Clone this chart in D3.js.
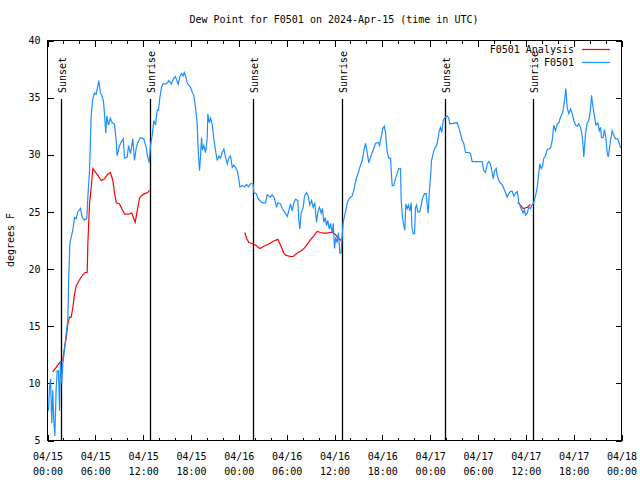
<!DOCTYPE html>
<html><head><meta charset="utf-8">
<script src="https://cdn.jsdelivr.net/npm/d3@7"></script>
<style>
body{margin:0;background:#fff;}
svg{display:block;}
text{font-family:"DejaVu Sans Mono","Liberation Mono",monospace;font-size:10px;fill:#000;}
</style></head><body>
<div id="chart"></div>
<script>
// ---- data (hours since 2024-04-15 00:00 UTC) ----
const chartTitle = "Dew Point for F0501 on 2024-Apr-15 (time in UTC)";
const yLabel = "degrees F";
const seriesNames = ["F0501 Analysis", "F0501"];
const xTickHours = [0,6,12,18,24,30,36,42,48,54,60,66,72];
const xTickDates = ["04/15","04/15","04/15","04/15","04/16","04/16","04/16","04/16","04/17","04/17","04/17","04/17","04/18"];
const xTickTimes = ["00:00","06:00","12:00","18:00","00:00","06:00","12:00","18:00","00:00","06:00","12:00","18:00","00:00"];
const yTicks = [5,10,15,20,25,30,35,40];
const sunsetHours = [1.72, 25.75, 49.84];
const sunriseHours = [12.83, 36.97, 60.88];

const stationHours = [0.13,0.25,0.38,0.54,0.66,0.79,0.92,1.09,1.22,1.38,1.51,1.63,1.79,1.92,2.13,2.35,2.55,2.67,2.80,2.97,3.17,3.39,3.60,3.80,4.14,4.35,4.64,4.93,5.06,5.27,5.48,5.68,5.90,6.11,6.44,6.61,6.81,7.02,7.15,7.31,7.44,7.65,7.87,8.12,8.40,8.62,8.74,9.03,9.32,9.50,9.66,10.00,10.16,10.41,10.70,10.91,11.13,11.33,11.67,12.08,12.38,12.58,12.76,12.92,13.13,13.33,13.55,13.76,13.92,14.09,14.30,14.51,14.93,15.22,15.52,15.84,16.06,16.18,16.40,16.60,16.81,17.02,17.15,17.35,17.52,17.72,17.94,18.15,18.35,18.56,18.78,18.90,19.07,19.19,19.32,19.44,19.61,19.82,20.03,20.11,20.28,20.45,20.66,20.86,21.07,21.29,21.49,21.70,21.91,22.12,22.33,22.54,22.74,22.96,23.17,23.37,23.58,23.80,24.00,24.12,24.42,24.71,24.96,25.21,25.38,25.59,25.80,25.88,26.21,26.38,26.63,26.93,27.35,27.56,27.76,27.97,28.18,28.47,28.73,28.89,29.23,29.44,29.73,30.07,30.27,30.48,30.70,30.90,31.11,31.40,31.53,31.65,31.82,32.08,32.24,32.49,32.70,32.90,33.12,33.33,33.53,33.74,33.91,34.12,34.33,34.50,34.66,34.84,35.00,35.16,35.34,35.50,35.71,35.84,36.00,36.16,36.34,36.50,36.67,36.84,36.92,37.09,37.38,37.60,37.88,38.22,38.42,38.72,38.98,39.26,39.48,39.73,39.89,40.10,40.30,40.52,40.73,40.93,41.14,41.48,41.65,41.90,42.06,42.24,42.40,42.61,42.81,43.03,43.15,43.24,43.44,43.65,43.86,44.07,44.28,44.37,44.53,44.69,44.82,44.95,45.12,45.28,45.44,45.62,45.70,45.87,46.04,46.16,46.29,46.45,46.70,46.88,47.04,47.29,47.50,47.63,47.76,47.88,48.04,48.17,48.38,48.55,48.80,48.96,49.14,49.30,49.46,49.64,49.80,49.96,50.14,50.34,50.46,51.39,51.59,51.81,52.02,52.22,52.43,52.85,53.06,53.27,54.53,54.73,54.94,55.16,55.36,55.57,55.78,55.91,56.07,56.28,56.41,56.61,56.82,57.03,57.24,57.45,57.66,57.86,58.08,58.29,58.49,58.70,58.91,59.04,59.11,59.20,59.33,59.67,59.83,59.96,60.17,60.37,60.58,60.79,60.99,61.21,61.42,61.55,61.75,61.93,62.09,62.26,62.47,62.68,62.88,63.10,63.31,63.51,63.72,63.94,64.14,64.35,64.56,64.69,64.85,65.02,65.19,65.39,65.61,65.82,66.02,66.23,66.45,66.65,66.86,67.07,67.20,67.27,67.49,67.70,67.90,68.12,68.24,68.40,68.61,68.78,69.03,69.21,69.37,69.49,69.70,69.86,70.03,70.20,70.33,70.50,70.62,70.83,71.04,71.25,71.54,71.67,71.88];
const stationDew = [7.6,9.6,10.4,6.5,9.4,6.75,5.4,9.6,11.1,11.1,7.6,12.0,10.0,11.7,12.9,14.4,15.5,19.4,22.2,22.8,23.4,24.5,24.4,25.0,25.3,24.5,24.3,24.4,26.3,28.6,33.4,34.9,35.4,35.3,36.5,35.5,35.2,34.7,33.6,31.9,33.4,32.6,33.2,32.8,32.7,31.2,29.9,30.8,31.2,31.4,29.7,29.8,30.8,30.1,31.4,29.5,30.6,31.1,31.5,31.4,30.6,29.8,29.3,30.8,31.7,33.0,32.6,33.9,33.9,35.0,35.9,36.2,36.2,36.5,36.2,36.7,36.85,36.6,36.15,36.85,37.1,36.9,37.2,36.85,36.3,36.1,35.9,35.5,35.2,34.2,32.7,30.4,28.6,29.8,31.5,30.4,30.8,30.2,31.4,33.6,32.8,33.2,32.7,31.4,30.4,29.5,29.9,29.7,30.2,30.5,29.8,29.2,29.7,29.9,28.9,29.1,28.9,28.6,27.9,27.2,27.3,27.2,27.4,27.2,27.4,27.5,27.4,26.7,26.6,26.2,26.0,25.8,25.8,26.5,26.4,26.3,26.5,26.2,25.4,25.8,25.7,25.3,25.0,24.6,25.1,25.7,25.1,25.8,26.1,26.0,24.25,23.5,24.9,25.4,26.4,26.7,26.4,25.6,26.0,25.4,25.8,24.1,25.0,25.4,24.9,25.3,24.1,24.5,23.8,24.25,23.5,24.0,23.1,24.0,21.8,22.8,22.3,23.2,21.4,21.4,22.5,24.1,25.0,25.8,26.2,26.4,26.9,27.9,28.4,29.1,29.5,30.55,31.0,30.2,29.3,29.8,30.2,30.55,31.0,31.1,30.8,31.7,32.3,32.5,31.95,30.2,29.7,29.7,28.2,27.3,27.3,27.9,28.4,28.8,28.8,26.0,24.5,23.8,23.4,25.7,25.3,25.6,25.1,25.8,23.7,23.1,23.1,25.4,25.6,25.0,25.0,25.6,26.2,26.6,26.6,25.6,24.9,26.6,28.0,29.5,30.1,30.55,30.8,31.25,32.1,32.4,31.95,33.0,33.2,33.3,33.4,33.2,32.7,32.8,32.4,31.85,31.25,31.0,30.2,30.2,30.1,29.4,29.4,28.6,28.45,29.2,29.4,29.2,28.4,27.9,28.6,28.8,28.2,27.75,27.5,27.4,27.05,26.7,26.3,26.6,26.8,26.8,26.4,26.6,26.8,26.3,25.8,25.7,25.4,24.9,25.2,24.7,24.9,25.4,25.3,25.6,25.8,26.4,27.1,27.9,29.2,28.8,29.0,29.7,29.9,30.45,30.5,30.6,31.25,32.6,32.1,32.7,32.8,33.3,33.6,33.95,34.75,35.8,34.1,33.6,34.0,33.6,33.0,32.6,32.5,32.7,32.4,31.7,30.55,29.8,31.9,32.8,33.0,34.0,35.2,34.3,33.4,32.6,32.8,32.1,32.4,31.5,31.5,32.2,31.5,30.2,29.8,30.6,31.25,32.1,31.7,31.4,31.4,31.1,30.6];

// analysis: null marks a gap between runs
const analysisHours = [0.66,1.09,1.51,1.92,2.13,2.35,2.55,2.76,2.97,3.17,3.39,3.60,3.80,4.14,4.43,4.73,4.98,5.06,5.27,5.48,5.68,5.90,6.31,6.74,7.15,7.56,7.90,8.19,8.40,8.62,9.03,9.45,9.66,10.16,10.57,10.83,11.00,11.25,11.54,11.75,12.17,12.58,12.79,
  18.0,
  24.75,24.96,25.25,25.75,26.09,26.63,27.13,27.76,28.39,28.89,29.23,29.64,29.94,30.48,30.82,31.32,31.82,32.24,32.65,33.08,33.40,33.83,34.25,34.66,35.09,35.41,35.84,36.13,36.54,36.84,
  48.0,
  58.99,59.33,59.67,60.17,60.58];
const analysisDew = [11.0,11.4,11.8,12.0,13.1,14.0,15.2,15.8,15.8,16.6,17.8,18.5,18.8,19.2,19.5,19.7,19.7,22.2,25.7,27.1,28.8,28.6,28.2,27.75,27.9,28.3,28.45,27.75,26.7,25.8,25.7,25.1,24.8,24.8,24.9,24.4,24.1,25.1,26.2,26.4,26.6,26.7,26.9,
  null,
  23.2,22.7,22.35,22.2,22.1,21.8,22.0,22.2,22.45,22.6,22.1,21.4,21.2,21.1,21.1,21.4,21.6,21.85,22.25,22.65,22.9,23.3,23.2,23.15,23.15,23.2,23.2,23.0,22.7,22.5,
  null,
  25.85,25.6,25.3,25.4,25.65];

const colors = ["#ff0000", "#1e8fff"];

// ---- chart ----
const W = 640, H = 480;
const m = {l:47, r:19, t:40, b:40};
const svg = d3.select("#chart").append("svg").attr("width", W).attr("height", H);

const x = d3.scaleLinear().domain([0,72]).range([m.l + 0.5, W - m.r + 0.5]);
const y = d3.scaleLinear().domain([5,40]).range([H - m.b + 0.5, m.t + 0.5]);

// title
svg.append("text").attr("x", (m.l + W - m.r)/2).attr("y", 23)
  .attr("text-anchor","middle").text(chartTitle);

// y label
svg.append("text").attr("transform", `translate(14,${(m.t + H - m.b)/2}) rotate(-90)`)
  .attr("text-anchor","middle").text(yLabel);

const axG = svg.append("g").attr("shape-rendering","crispEdges");

function styleAxis(g){
  g.select(".domain").remove();
  g.selectAll("line").attr("stroke","#000");
}

// bottom major ticks with labels
const xb = axG.append("g").attr("transform",`translate(0,${H - m.b + 0.5})`)
  .call(d3.axisBottom(x).tickValues(xTickHours).tickSize(-6).tickPadding(12).tickFormat(() => ""));
styleAxis(xb);
xb.selectAll(".tick").each(function(d,i){
  const t = d3.select(this).select("text").attr("font-family",null).attr("font-size",null)
    .attr("y",null).attr("dy",null);
  t.append("tspan").attr("x",0).attr("y",19).text(xTickDates[i]);
  t.append("tspan").attr("x",0).attr("y",34).text(xTickTimes[i]);
});
// top major ticks
const xt = axG.append("g").attr("transform",`translate(0,${m.t + 0.5})`)
  .call(d3.axisTop(x).tickValues(xTickHours).tickSize(-6).tickFormat(() => ""));
styleAxis(xt);
// minor x ticks every 2 hours
const minorHours = d3.range(0,73,2).filter(h => h % 6 !== 0);
const xbm = axG.append("g").attr("transform",`translate(0,${H - m.b + 0.5})`)
  .call(d3.axisBottom(x).tickValues(minorHours).tickSize(-3).tickFormat(() => ""));
styleAxis(xbm);
const xtm = axG.append("g").attr("transform",`translate(0,${m.t + 0.5})`)
  .call(d3.axisTop(x).tickValues(minorHours).tickSize(-3).tickFormat(() => ""));
styleAxis(xtm);

// y axes
const yl = axG.append("g").attr("transform",`translate(${m.l + 0.5},0)`)
  .call(d3.axisLeft(y).tickValues(yTicks).tickSize(-6).tickPadding(7));
styleAxis(yl);
yl.selectAll("text").attr("font-family",null).attr("font-size",null);
const yr = axG.append("g").attr("transform",`translate(${W - m.r + 0.5},0)`)
  .call(d3.axisRight(y).tickValues(yTicks).tickSize(-6).tickFormat(() => ""));
styleAxis(yr);

// frame
axG.append("rect").attr("x", m.l + 0.5).attr("y", m.t + 0.5)
  .attr("width", W - m.l - m.r).attr("height", H - m.t - m.b)
  .attr("fill","none").attr("stroke","#000");

// sunrise / sunset lines
const events = sunsetHours.map(h => ({h, label:"Sunset"}))
  .concat(sunriseHours.map(h => ({h, label:"Sunrise"})));
const evG = svg.append("g");
events.forEach(e => {
  const px = Math.round(x(e.h)) + 0.5;
  evG.append("line").attr("x1",px).attr("x2",px).attr("y1",99).attr("y2",H - m.b)
    .attr("stroke","#000").attr("stroke-width",1.3);
  evG.append("text").attr("transform",`translate(${px + 4},93) rotate(-90)`)
    .attr("text-anchor","start").text(e.label);
});

// data lines
const plotClip = svg.append("clipPath").attr("id","clip").append("rect")
  .attr("x", m.l).attr("y", m.t).attr("width", W - m.l - m.r + 1).attr("height", H - m.t - m.b + 1);

const stationData = stationHours.map((h,i) => ({h, v: stationDew[i]}));
const analysisData = analysisHours.map((h,i) => ({h, v: analysisDew[i]}));

const line = d3.line().defined(d => d.v !== null).x(d => x(d.h)).y(d => y(d.v));

const dataG = svg.append("g").attr("clip-path","url(#clip)");
dataG.append("path").datum(analysisData).attr("d", line)
  .attr("fill","none").attr("stroke", colors[0]).attr("stroke-width",1.2);
dataG.append("path").datum(stationData).attr("d", line)
  .attr("fill","none").attr("stroke", colors[1]).attr("stroke-width",1.2);

// legend
const legG = svg.append("g");
seriesNames.forEach((name,i) => {
  const ly = 49.5 + i*13;
  legG.append("text").attr("x",574).attr("y",ly).attr("dy","0.35em")
    .attr("text-anchor","end").text(name);
  legG.append("line").attr("x1",582).attr("x2",610).attr("y1",ly).attr("y2",ly)
    .attr("stroke",colors[i]).attr("stroke-width",1.2);
});
</script>
</body></html>
